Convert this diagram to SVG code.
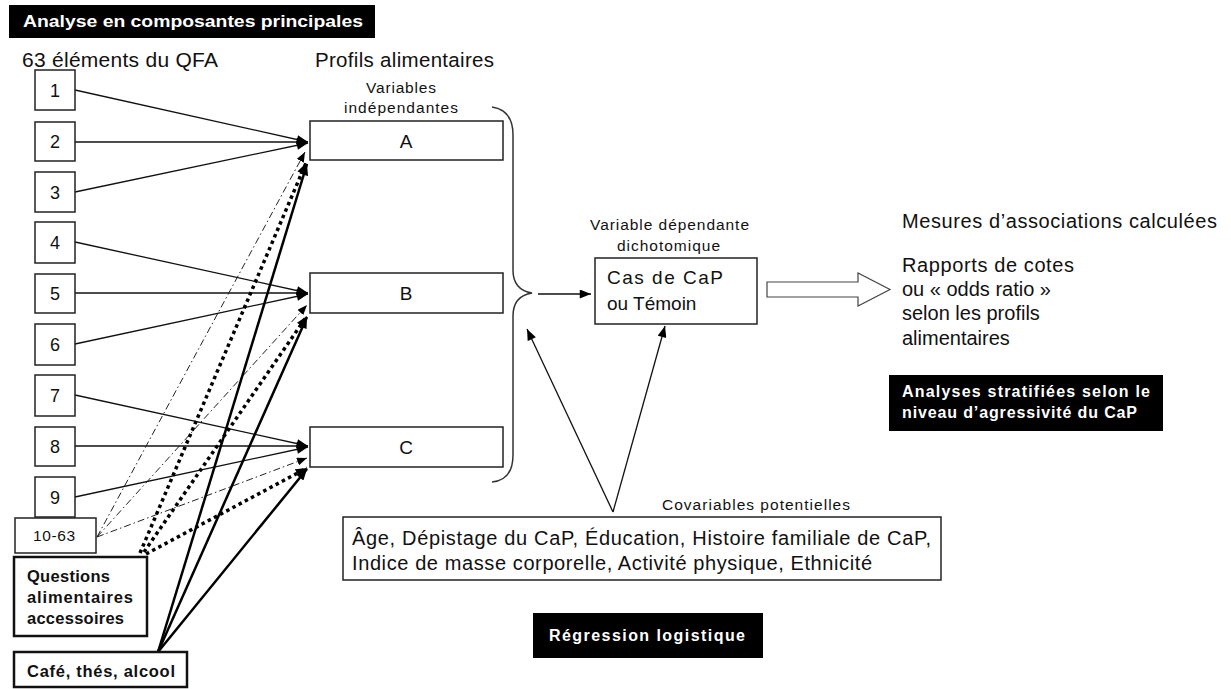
<svg xmlns="http://www.w3.org/2000/svg" width="1231" height="689" viewBox="0 0 1231 689">
<style>
text{font-family:"Liberation Sans",Arial,sans-serif;fill:#111}
.box{fill:#fff;stroke:#222;stroke-width:1.5}
.tbox{fill:#fff;stroke:#111;stroke-width:2.5}
.blk{fill:#000}
.wt{fill:#fff;font-weight:bold;font-size:16px}
.num{font-size:18px;text-anchor:middle}
.big{font-size:19px}
.rt{font-size:20px}
.small{font-size:15.5px}
.bold{font-weight:bold;font-size:16.5px}
.thin{stroke:#111;stroke-width:1.3;fill:none}
.dd{stroke:#222;stroke-width:1;fill:none;stroke-dasharray:7 3 1.5 3}
.dot{stroke:#000;stroke-width:3.5;fill:none;stroke-dasharray:3.5 3.5}
.thick{stroke:#000;stroke-width:2.5;fill:none}
</style>
<defs>
<marker id="ah" viewBox="0 0 10 8" refX="10" refY="4" markerWidth="12" markerHeight="9" markerUnits="userSpaceOnUse" orient="auto"><path d="M0,0 L10,4 L0,8 z" fill="#000"/></marker>
<marker id="ahs" viewBox="0 0 10 8" refX="10" refY="4" markerWidth="10" markerHeight="8" markerUnits="userSpaceOnUse" orient="auto"><path d="M0,0 L10,4 L0,8 z" fill="#000"/></marker>
</defs>

<g id="title"><rect class="blk" x="9" y="5" width="366" height="33"/><text class="wt" x="23" y="27" textLength="340" lengthAdjust="spacingAndGlyphs">Analyse en composantes principales</text></g>
<g id="hdr1"><text x="22" y="67" font-size="21" textLength="196">63 éléments du QFA</text></g>
<g id="hdr2"><text x="315" y="67" font-size="20.5" textLength="179">Profils alimentaires</text></g>
<g id="hdr3"><text class="small" x="366" y="93" textLength="70">Variables</text><text class="small" x="344" y="113" textLength="114">indépendantes</text></g>

<g id="connectors">
<line class="thin" x1="75" y1="90" x2="308" y2="142" marker-end="url(#ah)"/>
<line class="thin" x1="75" y1="142" x2="308" y2="142" marker-end="url(#ah)"/>
<line class="thin" x1="75" y1="192" x2="308" y2="143" marker-end="url(#ah)"/>
<line class="thin" x1="75" y1="242" x2="308" y2="293" marker-end="url(#ah)"/>
<line class="thin" x1="75" y1="293" x2="308" y2="293" marker-end="url(#ah)"/>
<line class="thin" x1="75" y1="344" x2="308" y2="294" marker-end="url(#ah)"/>
<line class="thin" x1="75" y1="395" x2="308" y2="446" marker-end="url(#ah)"/>
<line class="thin" x1="75" y1="446" x2="308" y2="446" marker-end="url(#ah)"/>
<line class="thin" x1="75" y1="497" x2="308" y2="447" marker-end="url(#ah)"/>
<line class="dd" x1="97" y1="537" x2="305" y2="152" marker-end="url(#ahs)"/>
<line class="dd" x1="97" y1="537" x2="307" y2="305" marker-end="url(#ahs)"/>
<line class="dd" x1="97" y1="537" x2="307" y2="458" marker-end="url(#ahs)"/>
<line class="dot" x1="140" y1="553" x2="306" y2="163" marker-end="url(#ah)"/>
<line class="dot" x1="144" y1="552" x2="307" y2="316" marker-end="url(#ah)"/>
<line class="dot" x1="146" y1="554" x2="307" y2="468" marker-end="url(#ah)"/>
<line class="thick" x1="158" y1="652" x2="307" y2="164" marker-end="url(#ah)"/>
<line class="thick" x1="158" y1="652" x2="307" y2="317" marker-end="url(#ah)"/>
<line class="thick" x1="158" y1="652" x2="307" y2="469" marker-end="url(#ah)"/>
<path d="M492,107 Q513,110 513,135 L513,270 Q513,290 532,293 Q513,296 513,316 L513,455 Q513,480 492,482" fill="none" stroke="#333" stroke-width="1.5"/>
<line class="thin" x1="538" y1="294" x2="591" y2="294" marker-end="url(#ah)"/>
<line class="thin" x1="613" y1="512" x2="527" y2="329" marker-end="url(#ah)"/>
<line class="thin" x1="613" y1="512" x2="665" y2="326" marker-end="url(#ah)"/>
<path d="M767,282 L858,282 L858,273 L890,289.5 L858,306 L858,297 L767,297 z" fill="#fff" stroke="#444" stroke-width="1.2"/>
</g>

<g id="n1"><rect class="box" x="35" y="70" width="40" height="40"/><text class="num" x="55" y="97">1</text></g>
<g id="n2"><rect class="box" x="35" y="122" width="40" height="39"/><text class="num" x="55" y="148">2</text></g>
<g id="n3"><rect class="box" x="35" y="172" width="40" height="40"/><text class="num" x="55" y="199">3</text></g>
<g id="n4"><rect class="box" x="35" y="222" width="40" height="41"/><text class="num" x="55" y="249">4</text></g>
<g id="n5"><rect class="box" x="35" y="274" width="40" height="39"/><text class="num" x="55" y="300">5</text></g>
<g id="n6"><rect class="box" x="35" y="324" width="40" height="41"/><text class="num" x="55" y="351">6</text></g>
<g id="n7"><rect class="box" x="35" y="375" width="40" height="41"/><text class="num" x="55" y="402">7</text></g>
<g id="n8"><rect class="box" x="35" y="427" width="40" height="39"/><text class="num" x="55" y="453">8</text></g>
<g id="n9"><rect class="box" x="35" y="477" width="40" height="40"/><text class="num" x="55" y="504">9</text></g>
<g id="n10"><rect class="box" x="15" y="518" width="81" height="35"/><text x="33" y="541" font-size="15.5" textLength="42">10-63</text></g>
<g id="nq"><rect class="tbox" x="14" y="557" width="133" height="79"/><text class="bold" x="27" y="582" textLength="83">Questions</text><text class="bold" x="27" y="603" textLength="106">alimentaires</text><text class="bold" x="27" y="624" textLength="97">accessoires</text></g>
<g id="nc"><rect class="tbox" x="14" y="652" width="173" height="35"/><text class="bold" x="27" y="677" textLength="148">Café, thés, alcool</text></g>

<g id="nA"><rect class="box" x="310" y="121" width="193" height="39"/><text class="big" x="406" y="148" text-anchor="middle">A</text></g>
<g id="nB"><rect class="box" x="310" y="273" width="193" height="40"/><text class="big" x="406" y="300" text-anchor="middle">B</text></g>
<g id="nC"><rect class="box" x="310" y="427" width="193" height="40"/><text class="big" x="406" y="454" text-anchor="middle">C</text></g>

<g id="ndep"><text class="small" x="590" y="230" textLength="159">Variable dépendante</text><text class="small" x="617" y="251" textLength="103">dichotomique</text></g>
<g id="ncas"><rect class="box" x="595" y="258" width="162" height="66"/><text class="big" x="607" y="284" textLength="116">Cas de CaP</text><text class="big" x="607" y="310">ou Témoin</text></g>

<g id="nmes"><text class="rt" x="902" y="228" textLength="315">Mesures d’associations calculées</text></g>
<g id="nrap"><text class="rt" x="902" y="272" textLength="172">Rapports de cotes</text><text class="rt" x="902" y="296">ou « odds ratio »</text><text class="rt" x="902" y="320">selon les profils</text><text class="rt" x="902" y="345">alimentaires</text></g>
<g id="nstrat"><rect class="blk" x="889" y="375" width="274" height="56"/><text class="wt" x="902" y="397" textLength="248">Analyses stratifiées selon le</text><text class="wt" x="902" y="418" textLength="235">niveau d’agressivité du CaP</text></g>

<g id="ncov"><text class="small" x="662" y="510" textLength="188">Covariables  potentielles</text><rect class="box" x="343" y="517" width="598" height="63"/><text class="rt" x="352" y="545" textLength="579">Âge, Dépistage du CaP, Éducation, Histoire familiale de CaP,</text><text class="rt" x="352" y="570" textLength="520">Indice de masse corporelle, Activité physique, Ethnicité</text></g>
<g id="nreg"><rect class="blk" x="533" y="613" width="230" height="45"/><text class="wt" x="549" y="641" textLength="196">Régression logistique</text></g>
</svg>
